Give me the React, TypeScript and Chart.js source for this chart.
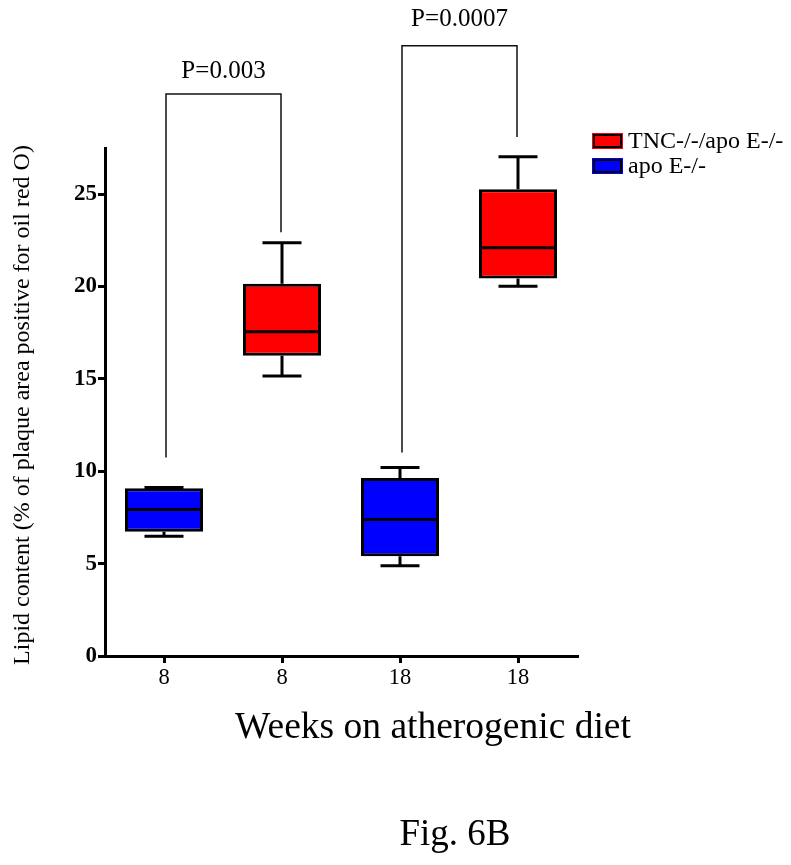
import React, { useEffect, useRef } from "react";
import { Chart, registerables } from "chart.js";

Chart.register(...registerables);

// ---------- data ----------
const categories = ["8", "8", "18", "18"];
const groupNames = ["TNC-/-/apo E-/-", "apo E-/-"];
const groupColors = ["#FF0000", "#0000FF"];
const groupOf = [1, 0, 1, 0]; // index into groupNames
const whiskerMin = [6.48, 15.16, 4.89, 20.02];
const q1 = [6.72, 16.25, 5.4, 20.43];
const medians = [7.93, 17.55, 7.39, 22.1];
const q3 = [9.08, 20.15, 9.64, 25.27];
const whiskerMax = [9.12, 22.37, 10.2, 27.03];

const yTickValues = [0, 5, 10, 15, 20, 25];
const yMax = 27.5;

// significance brackets
const bracketLeft = [0, 2];
const bracketRight = [1, 3];
const bracketLevel = [30.42, 33.04];
const bracketLeftEnd = [10.74, 11.01];
const bracketRightEnd = [22.94, 28.09];
const pLabels = ["P=0.003", "P=0.0007"];
const pLabelLevel = [31.27, 34.13];

const yTitle = "Lipid content (% of plaque area positive for oil red O)";
const xTitle = "Weeks on atherogenic diet";
const figLabel = "Fig. 6B";

const FONT = "'Liberation Serif', 'Times New Roman', serif";

const overlayPlugin = {
  id: "overlay",
  afterDatasetsDraw(chart: any) {
    const ctx = chart.ctx as CanvasRenderingContext2D;
    const xs = chart.scales.x;
    const ys = chart.scales.y;
    ctx.save();
    ctx.strokeStyle = "#000";
    ctx.lineCap = "butt";
    categories.forEach((_, i) => {
      const meta = chart.getDatasetMeta(groupOf[i]);
      const el: any = meta.data[i];
      const w = el && isFinite(el.width) ? el.width : 78;
      const cx = xs.getPixelForValue(i);
      ctx.lineWidth = 3;
      const ym = ys.getPixelForValue(medians[i]);
      ctx.beginPath();
      ctx.moveTo(cx - w / 2 + 1, ym);
      ctx.lineTo(cx + w / 2 - 1, ym);
      ctx.stroke();
      const yq3 = ys.getPixelForValue(q3[i]);
      const yMx = ys.getPixelForValue(whiskerMax[i]);
      const yq1 = ys.getPixelForValue(q1[i]);
      const yMn = ys.getPixelForValue(whiskerMin[i]);
      ctx.beginPath();
      ctx.moveTo(cx, yq3);
      ctx.lineTo(cx, yMx);
      ctx.moveTo(cx - w / 4, yMx);
      ctx.lineTo(cx + w / 4, yMx);
      ctx.moveTo(cx, yq1);
      ctx.lineTo(cx, yMn);
      ctx.moveTo(cx - w / 4, yMn);
      ctx.lineTo(cx + w / 4, yMn);
      ctx.stroke();
    });
    ctx.restore();
  },
  afterDraw(chart: any) {
    const ctx = chart.ctx as CanvasRenderingContext2D;
    const xs = chart.scales.x;
    const ys = chart.scales.y;
    const area = chart.chartArea;
    ctx.save();
    // brackets
    ctx.strokeStyle = "#111";
    ctx.lineWidth = 1.5;
    pLabels.forEach((label, k) => {
      const xl = xs.getPixelForValue(bracketLeft[k]) + 2;
      const xr = xs.getPixelForValue(bracketRight[k]) - 1;
      const yl = ys.getPixelForValue(bracketLevel[k]);
      ctx.beginPath();
      ctx.moveTo(xl, ys.getPixelForValue(bracketLeftEnd[k]));
      ctx.lineTo(xl, yl);
      ctx.lineTo(xr, yl);
      ctx.lineTo(xr, ys.getPixelForValue(bracketRightEnd[k]));
      ctx.stroke();
      ctx.fillStyle = "#000";
      ctx.font = `25px ${FONT}`;
      ctx.textAlign = "center";
      ctx.textBaseline = "alphabetic";
      ctx.fillText(label, (xl + xr) / 2, ys.getPixelForValue(pLabelLevel[k]));
    });

    // legend
    const legX = area.right + 15;
    const legY0 = area.top - 15;
    ctx.font = `24px ${FONT}`;
    ctx.textAlign = "left";
    ctx.textBaseline = "middle";
    groupNames.forEach((name, g) => {
      const top = legY0 + g * 25;
      ctx.fillStyle = groupColors[g];
      ctx.fillRect(legX, top, 31, 16);
      ctx.strokeStyle = "#000";
      ctx.lineWidth = 2;
      ctx.strokeRect(legX + 2, top + 2, 27, 12);
      ctx.fillStyle = "#000";
      ctx.fillText(name, legX + 36, top + 9);
    });

    // y title
    ctx.save();
    ctx.translate(29, (area.top + area.bottom) / 2 + 3);
    ctx.rotate(-Math.PI / 2);
    ctx.font = `24px ${FONT}`;
    ctx.textAlign = "center";
    ctx.textBaseline = "alphabetic";
    ctx.fillStyle = "#000";
    ctx.fillText(yTitle, 0, 0);
    ctx.restore();

    // x title
    ctx.font = `37.5px ${FONT}`;
    ctx.textAlign = "center";
    ctx.textBaseline = "alphabetic";
    ctx.fillStyle = "#000";
    ctx.fillText(xTitle, 433, area.bottom + 82);

    // figure label
    ctx.font = `37px ${FONT}`;
    ctx.fillText(figLabel, 455, area.bottom + 189);
    ctx.restore();
  },
};

export default function App() {
  const canvasRef = useRef<HTMLCanvasElement | null>(null);

  useEffect(() => {
    if (!canvasRef.current) return;
    const datasets = groupNames.map((name, g) => ({
      label: name,
      data: categories.map((_, i) => (groupOf[i] === g ? [q1[i], q3[i]] : null)),
      backgroundColor: groupColors[g],
      borderColor: "#000",
      borderWidth: 3,
      borderSkipped: false,
      grouped: false,
      categoryPercentage: 1,
      barPercentage: 0.661,
    }));
    const chart = new Chart(canvasRef.current, {
      type: "bar",
      data: { labels: categories, datasets: datasets as any },
      options: {
        responsive: false,
        animation: false,
        layout: { padding: { top: 148, left: 0, right: 214, bottom: 0 } },
        plugins: {
          legend: { display: false },
          tooltip: { enabled: false },
          title: { display: false },
        },
        scales: {
          x: {
            type: "category",
            offset: true,
            grid: {
              display: true,
              drawOnChartArea: false,
              drawTicks: true,
              tickLength: 7,
              lineWidth: 3,
              color: "#000",
              offset: false,
            },
            border: { display: true, width: 3, color: "#000" },
            ticks: {
              color: "#000",
              font: { family: FONT, size: 22.5 },
              padding: 2,
              maxRotation: 0,
            },
            afterFit: (scale: any) => {
              scale.height = 865 - 656;
            },
          },
          y: {
            type: "linear",
            min: 0,
            max: yMax,
            grid: {
              display: true,
              drawOnChartArea: false,
              drawTicks: true,
              tickLength: 7,
              lineWidth: 3,
              color: "#000",
            },
            border: { display: true, width: 3, color: "#000" },
            ticks: {
              color: "#000",
              font: { family: FONT, size: 23, weight: "bold" },
              padding: 1,
              includeBounds: false,
              stepSize: 5,
            },
            afterBuildTicks: (scale: any) => {
              scale.ticks = yTickValues.map((v) => ({ value: v }));
            },
            afterFit: (scale: any) => {
              scale.width = 105;
            },
          },
        },
      },
      plugins: [overlayPlugin],
    });
    return () => chart.destroy();
  }, []);

  return (
    <div style={{ position: "absolute", left: 0, top: 0, width: 791, height: 865, background: "#fff" }}>
      <canvas ref={canvasRef} width={791} height={865} />
    </div>
  );
}
